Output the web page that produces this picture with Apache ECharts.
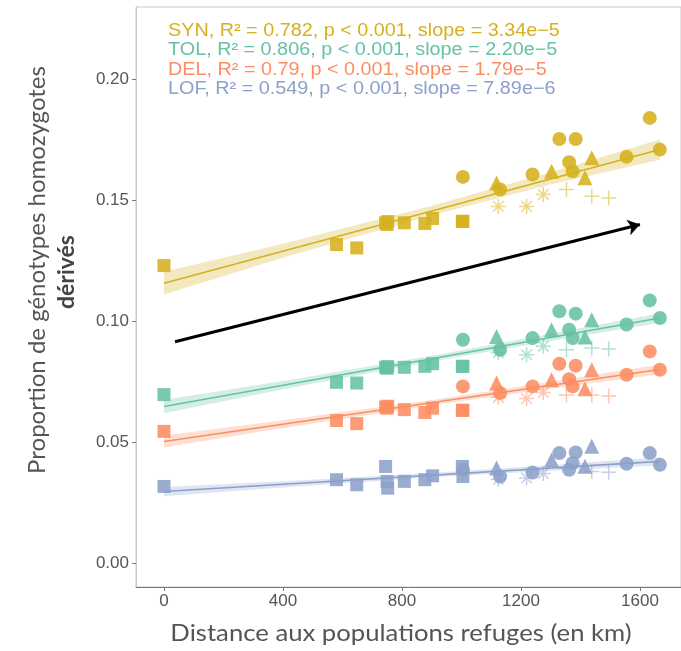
<!DOCTYPE html>
<html><head><meta charset="utf-8">
<script src="https://cdn.jsdelivr.net/npm/echarts@6/dist/echarts.min.js"></script>
<style>html,body{margin:0;padding:0;background:#fff}#c{width:681px;height:651px}</style>
</head><body><div id="c"></div>
<script>
// population distances (km) and symbol shapes
const distances = [0,580,648,745,750,752,808,877,903,1003,1005,1005,1118,1130,1124,1219,1275,1239,1303,1329,1384,1362,1374,1415,1438,1353,1438,1495,1555,1633,1667];
const shapes    = ['sq','sq','sq','sq','sq','sq','sq','sq','sq','sq','sq','ci','tr','ci','as','as','as','ci','tr','ci','ci','ci','ci','tr','tr','pl','pl','pl','ci','ci','ci'];
const synValues = [0.123,0.1317,0.1303,0.1407,0.1400,0.1412,0.1407,0.1404,0.1425,0.1413,0.1413,0.1597,0.1572,0.1545,0.1475,0.1475,0.1524,0.1607,0.162,0.1754,0.1754,0.1658,0.162,0.1593,0.1676,0.1545,0.1517,0.151,0.168,0.1841,0.171];
const tolValues = [0.0696,0.0747,0.0744,0.0809,0.0805,0.0812,0.0809,0.0813,0.0824,0.0813,0.0813,0.0923,0.0937,0.0882,0.087,0.0861,0.0896,0.093,0.0965,0.1041,0.1031,0.0965,0.093,0.0935,0.1006,0.0882,0.0889,0.0885,0.0986,0.1086,0.1013];
const delValues = [0.0544,0.0589,0.0576,0.0645,0.064,0.0648,0.0634,0.0622,0.064,0.0631,0.0631,0.073,0.0744,0.0703,0.0685,0.068,0.0705,0.073,0.0758,0.0824,0.0816,0.076,0.073,0.072,0.0799,0.0695,0.0695,0.069,0.0778,0.0875,0.0799];
const lofValues = [0.0316,0.0344,0.0323,0.0399,0.0337,0.0309,0.0337,0.0344,0.036,0.0399,0.0357,0.0385,0.0392,0.0357,0.0345,0.0351,0.037,0.0374,0.0426,0.0454,0.0457,0.0385,0.0413,0.040,0.0482,0.039,0.0378,0.0375,0.041,0.0454,0.0406];

// fitted lines [distance, value]
const synFit = [[0,0.1157],[1667,0.171]];
const tolFit = [[0,0.0647],[1667,0.1013]];
const delFit = [[0,0.0502],[1667,0.0800]];
const lofFit = [[0,0.0295],[1667,0.0420]];
// confidence bands [distance, lower, upper]
const synBand = [[0,0.1110,0.1205],[400,0.1262,0.1320],[900,0.1438,0.1478],[1300,0.1566,0.1616],[1667,0.1668,0.1752]];
const tolBand = [[0,0.0619,0.0675],[400,0.0718,0.0752],[900,0.0833,0.0857],[1300,0.0918,0.0948],[1667,0.0993,0.1033]];
const delBand = [[0,0.0477,0.0527],[400,0.0558,0.0590],[900,0.0652,0.0674],[1300,0.0721,0.0749],[1667,0.0779,0.0821]];
const lofBand = [[0,0.0276,0.0314],[400,0.0312,0.0338],[900,0.0354,0.0372],[1300,0.0381,0.0405],[1667,0.0403,0.0437]];

const arrowCoords = [[37,0.0915],[1600,0.140]];

const xTicks = [0,400,800,1200,1600];
const yTicks = [0,0.05,0.10,0.15,0.20];

const statLabels = [
  'SYN, R\u00b2 = 0.782, p < 0.001, slope = 3.34e\u22125',
  'TOL, R\u00b2 = 0.806, p < 0.001, slope = 2.20e\u22125',
  'DEL, R\u00b2 = 0.79, p < 0.001, slope = 1.79e\u22125',
  'LOF, R\u00b2 = 0.549, p < 0.001, slope = 7.89e\u22126'
];
const colors = ['#D5B11C','#66C2A5','#FC8D62','#8DA0CB'];

const asteriskPath = 'path://M-1,-10L1,-10L1,10L-1,10Z M-10,-1L10,-1L10,1L-10,1Z M-6.36,-7.78L7.78,6.36L6.36,7.78L-7.78,-6.36Z M7.78,-6.36L-6.36,7.78L-7.78,6.36L6.36,-7.78Z';
const plusPath = 'path://M-1,-10L1,-10L1,10L-1,10Z M-10,-1L10,-1L10,1L-10,1Z';
const symMap = {sq:'rect', ci:'circle', tr:'triangle', as:asteriskPath, pl:plusPath};
const sizeMap = {sq:13, ci:14, tr:15, as:15, pl:15};

function scatterSeries(name, vals, color){
  return {
    name, type:'scatter', z:3,
    data: distances.map((d,i)=>({
      value:[d, vals[i]],
      symbol: symMap[shapes[i]],
      symbolSize: sizeMap[shapes[i]],
      itemStyle:{color, opacity: (shapes[i]==='as'||shapes[i]==='pl') ? 0.5 : 0.88}
    }))
  };
}
function fitSeries(fit, color){
  return {type:'line', data:fit, showSymbol:false, z:4, silent:true,
    lineStyle:{color, width:1.6}};
}
function bandSeries(band, color){
  return {type:'custom', coordinateSystem:'cartesian2d', silent:true, z:2,
    data:[[band[0][0], band[0][1]]],
    renderItem:(params, api)=>{
      const upper = band.map(b=>api.coord([b[0], b[2]]));
      const lower = band.slice().reverse().map(b=>api.coord([b[0], b[1]]));
      return {type:'polygon', shape:{points: upper.concat(lower)}, style:{fill: color, opacity: 0.28}};
    }};
}

const chart = echarts.init(document.getElementById('c'), null, {renderer:'canvas'});
const groups = [[synValues,synFit,synBand],[tolValues,tolFit,tolBand],[delValues,delFit,delBand],[lofValues,lofFit,lofBand]];
const series = [];
groups.forEach((g,k)=>{
  series.push(bandSeries(g[2], colors[k]));
  series.push(scatterSeries(['SYN','TOL','DEL','LOF'][k], g[0], colors[k]));
  series.push(fitSeries(g[1], colors[k]));
});
series.push({type:'lines', coordinateSystem:'cartesian2d', z:6, silent:true,
  data:[{coords: arrowCoords}], symbol:['none','arrow'], symbolSize:[0,12],
  lineStyle:{color:'#000', width:3, opacity:1}});

const graphics = statLabels.map((t,k)=>({
  type:'text', x:168, y:31 + k*19.5, z:10, scaleX:1.1, originX:0,
  style:{text:t, fill:colors[k], font:'18px "Liberation Sans", Arial, sans-serif', verticalAlign:'middle', textVerticalAlign:'middle'}
}));
graphics.push({type:'text', x:401, y:633, scaleX:1.07, originX:0,
  style:{text:'Distance aux populations refuges (en km)', fill:'#555', font:'24px Lato, sans-serif', align:'center', verticalAlign:'middle', textAlign:'center', textVerticalAlign:'middle'}});
graphics.push({type:'text', x:37, y:270, rotation:Math.PI/2, style:{text:'Proportion de génotypes homozygotes', fill:'#555', font:'24px Lato, sans-serif', align:'center', verticalAlign:'middle', textAlign:'center', textVerticalAlign:'middle'}});
graphics.push({type:'text', x:67, y:272, rotation:Math.PI/2, style:{text:'dérivés', fill:'#444', font:'bold 23px Lato, sans-serif', align:'center', verticalAlign:'middle', textAlign:'center', textVerticalAlign:'middle'}});

chart.setOption({
  animation:false,
  backgroundColor:'#fff',
  grid:{left:136, right:0, top:7, bottom:64, show:true, borderColor:'#c8c8c8', borderWidth:1, containLabel:false},
  xAxis:{type:'value', min:-94, max:1738,
    axisLine:{show:true, onZero:false, lineStyle:{color:'#777', width:1}},
    axisTick:{show:true, customValues:xTicks, length:4, lineStyle:{color:'#777'}},
    axisLabel:{customValues:xTicks, color:'#555', fontSize:17, fontFamily:'"Liberation Sans", Arial', margin:6, formatter:v=>String(v)},
    splitLine:{show:false}},
  yAxis:{type:'value', min:-0.01, max:0.23,
    axisLine:{show:true, onZero:false, lineStyle:{color:'#c8c8c8', width:1}},
    axisTick:{show:true, customValues:yTicks, length:4, lineStyle:{color:'#777'}},
    axisLabel:{customValues:yTicks, color:'#555', fontSize:17, fontFamily:'"Liberation Sans", Arial', margin:7, formatter:v=>v.toFixed(2)},
    splitLine:{show:false}},
  graphic: graphics,
  series
});
</script></body></html>
